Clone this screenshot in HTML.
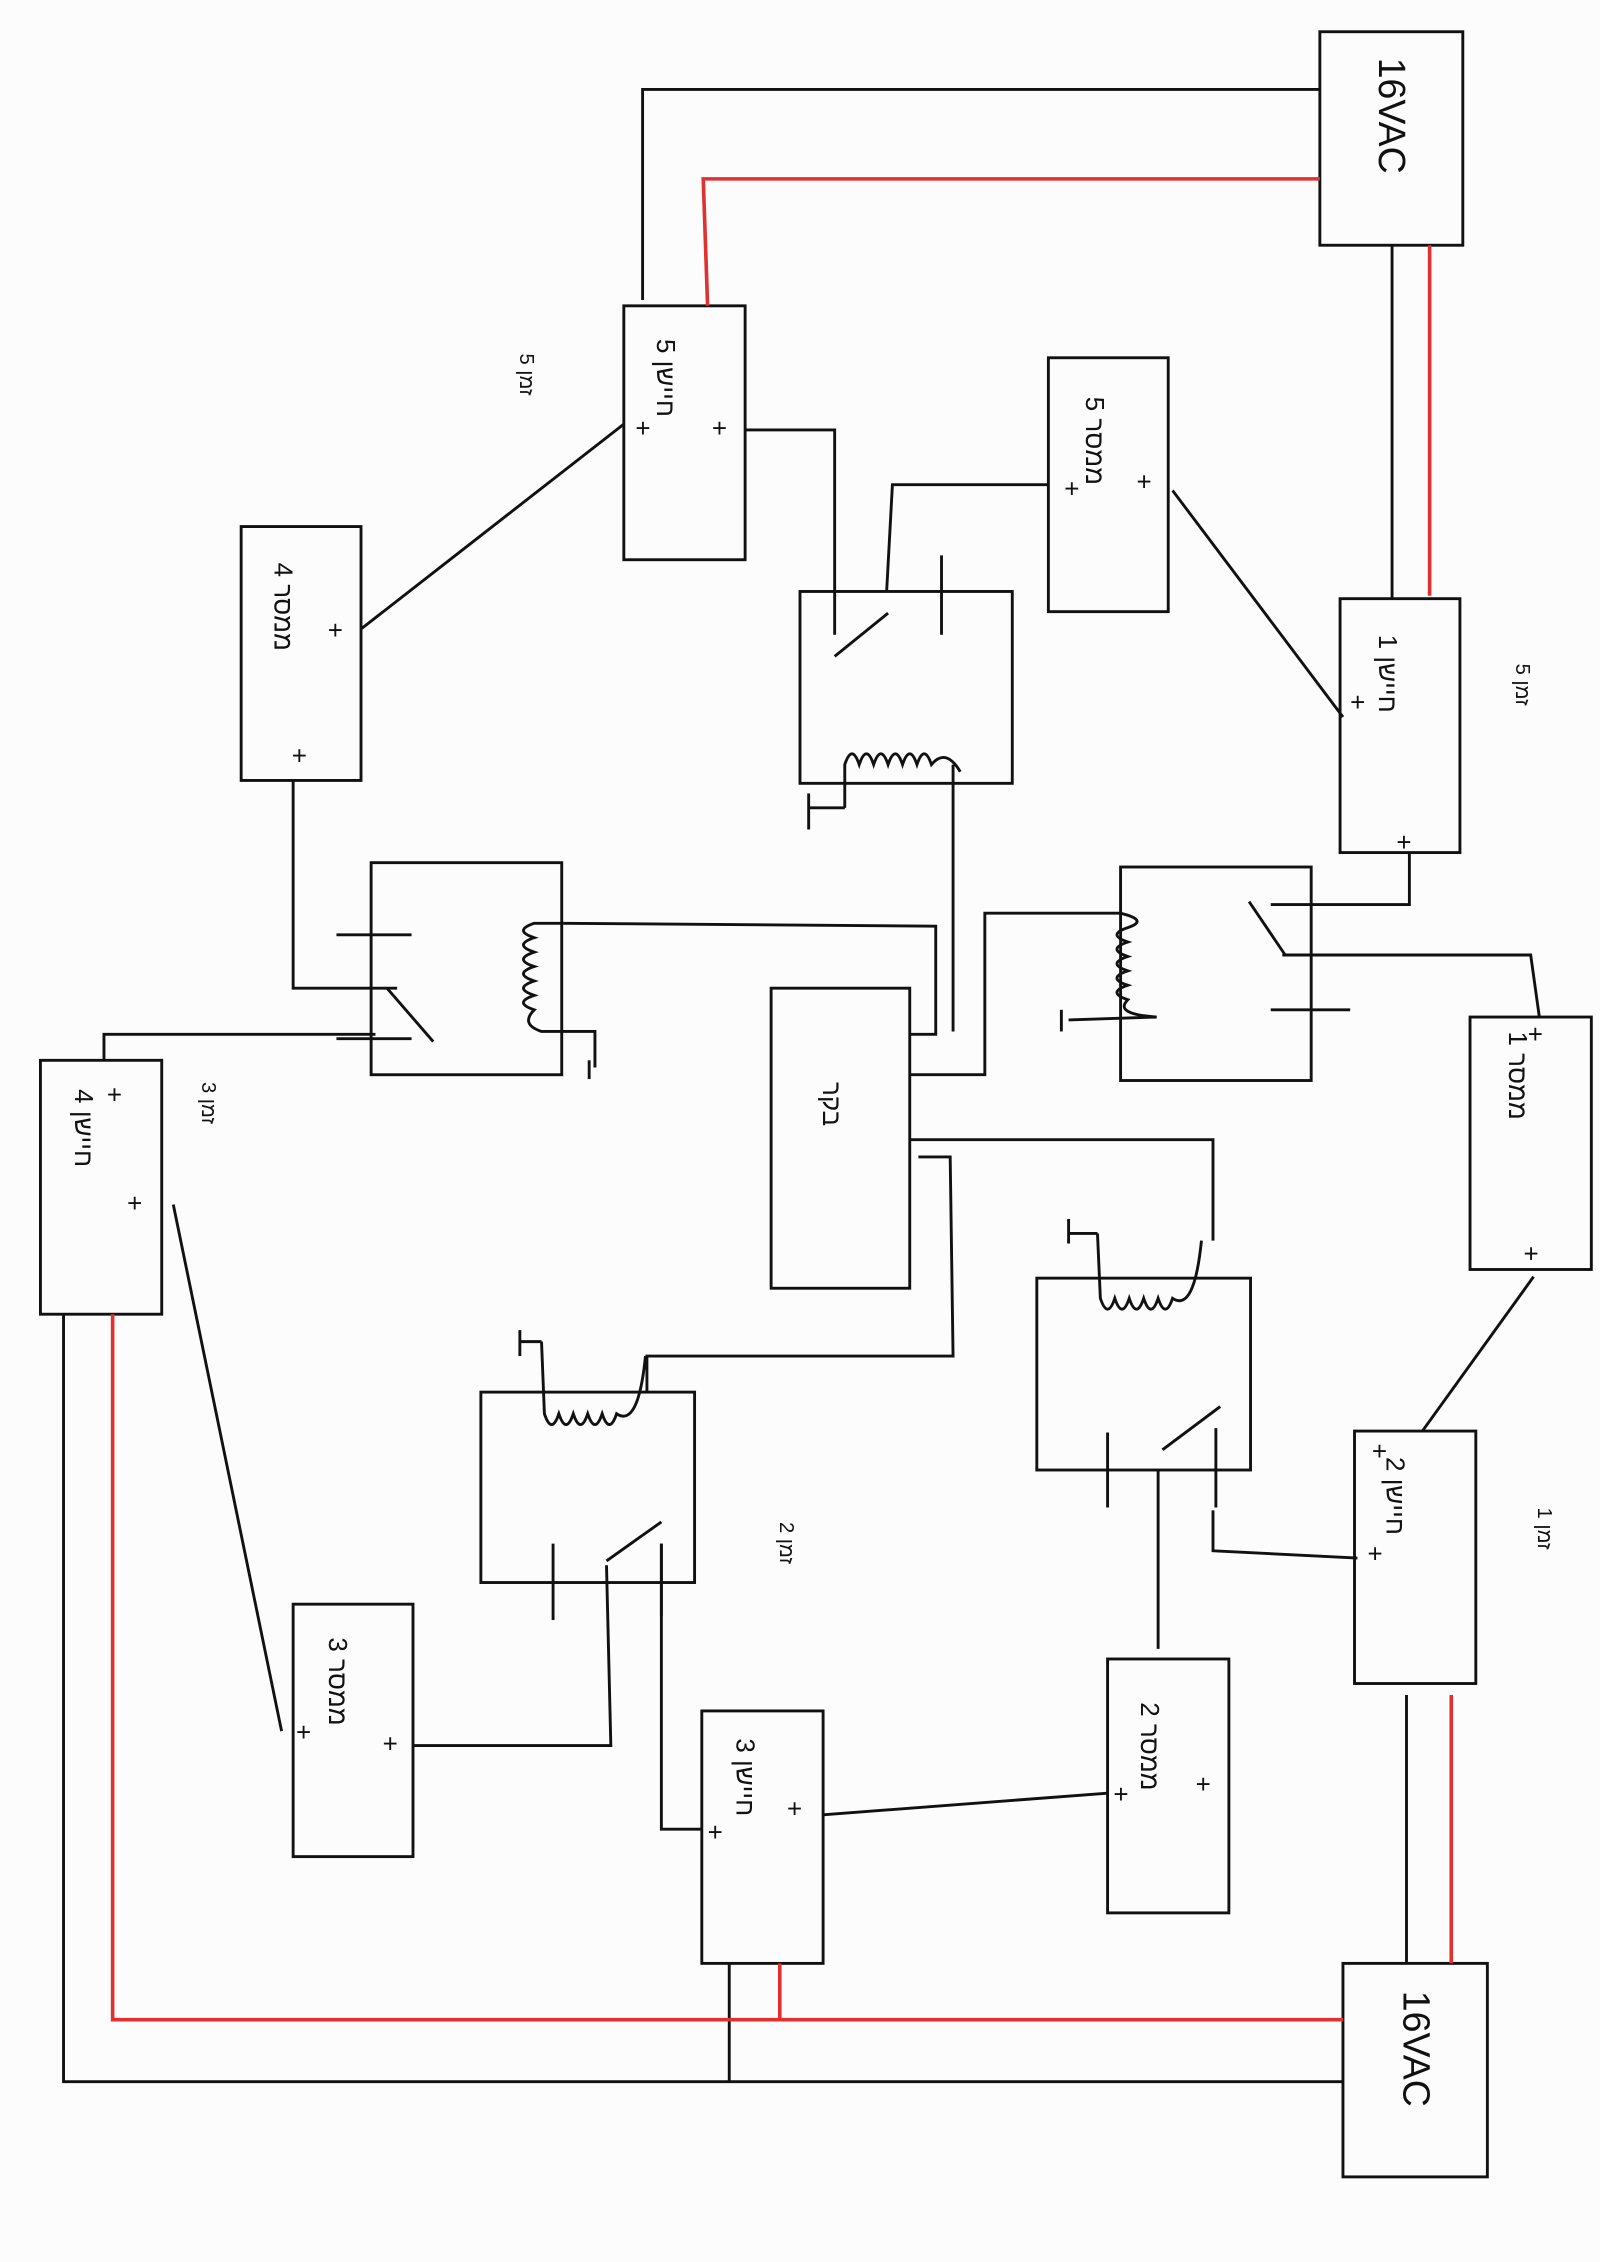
<!DOCTYPE html>
<html><head><meta charset="utf-8"><style>
html,body{margin:0;padding:0;background:#fcfcfc;}
svg{display:block;}
text{font-family:"Liberation Sans","Noto Sans CJK SC",sans-serif;fill:#111;}
</style></head><body>
<svg width="1600" height="2262" viewBox="0 0 1108 1568" preserveAspectRatio="none" xmlns="http://www.w3.org/2000/svg">
<rect width="1108" height="1568" fill="#fcfcfc"/>
<g fill="none" stroke="#111" stroke-width="2">
<!-- boxes -->
<rect x="914" y="22" width="99" height="148"/>
<rect x="432" y="212" width="84" height="176"/>
<rect x="726" y="248" width="83" height="176"/>
<rect x="167" y="365" width="83" height="176"/>
<rect x="554" y="410" width="147" height="133"/>
<rect x="928" y="415" width="83" height="176"/>
<rect x="257" y="598" width="132" height="147"/>
<rect x="776" y="601" width="132" height="148"/>
<rect x="534" y="685" width="96" height="208"/>
<rect x="1018" y="705" width="84" height="175"/>
<rect x="28" y="735" width="84" height="176"/>
<rect x="718" y="886" width="148" height="133"/>
<rect x="333" y="965" width="148" height="132"/>
<rect x="938" y="992" width="84" height="175"/>
<rect x="203" y="1112" width="83" height="175"/>
<rect x="486" y="1186" width="84" height="175"/>
<rect x="767" y="1150" width="84" height="176"/>
<rect x="930" y="1361" width="100" height="148"/>
<!-- black wires -->
<polyline points="914,62 445,62 445,208"/>
<line x1="964" y1="170" x2="964" y2="415"/>
<polyline points="516,298 578,298 578,440"/>
<polyline points="614,410 618,336 726,336"/>
<line x1="812" y1="340" x2="930" y2="497"/>
<line x1="250" y1="436" x2="432" y2="294"/>
<polyline points="203,541 203,685 275,685"/>
<polyline points="72,735 72,717 260,717"/>
<line x1="120" y1="835" x2="195" y2="1200"/>
<polyline points="44,911 44,1443 930,1443"/>
<line x1="505" y1="1361" x2="505" y2="1443"/>
<line x1="974" y1="1175" x2="974" y2="1361"/>
<polyline points="286,1210 423,1210 420,1085"/>
<polyline points="458,1070 458,1268 486,1268"/>
<line x1="570" y1="1258" x2="767" y2="1243"/>
<line x1="802" y1="1019" x2="802" y2="1143"/>
<polyline points="840,1047 840,1075 940,1080"/>
<line x1="1062" y1="885" x2="985" y2="992"/>
<polyline points="976,591 976,627 880,627"/>
<polyline points="888,662 1060,662 1066,705"/>
<polyline points="630,745 682,745 682,633 776,633"/>
<polyline points="630,717 648,717 648,642 390,640"/>
<polyline points="630,790 840,790 840,860"/>
<polyline points="636,802 658,802 660,940 448,940 448,965"/>
<polyline points="660,715 660,530"/>
<!-- switch symbols -->
<line x1="578" y1="455" x2="615" y2="425"/><line x1="652" y1="385" x2="652" y2="440"/>
<line x1="233" y1="648" x2="285" y2="648"/><line x1="268" y1="685" x2="300" y2="722"/><line x1="233" y1="720" x2="285" y2="720"/>
<line x1="865" y1="625" x2="890" y2="662"/><line x1="880" y1="700" x2="935" y2="700"/>
<line x1="805" y1="1005" x2="845" y2="975"/><line x1="767" y1="993" x2="767" y2="1045"/><line x1="842" y1="990" x2="842" y2="1045"/>
<line x1="420" y1="1082" x2="458" y2="1055"/><line x1="383" y1="1070" x2="383" y2="1123"/><line x1="458" y1="1070" x2="458" y2="1120"/>
<!-- coils -->
<path d="M585,560 L585,530 q5,-15 10,0 q5,-15 10,0 q5,-15 10,0 q5,-15 10,0 q5,-15 10,0 q5,-15 10,0 q10,-12 20,5"/>
<path d="M390,640 L370,640 q-15,5 0,10 q-15,5 0,10 q-15,5 0,10 q-15,5 0,10 q-15,5 0,10 q-15,5 0,10 q-10,10 5,15 L412,715 L412,740"/>
<path d="M776,633 q20,5 5,10 q-15,5 0,10 q-15,5 0,10 q-15,5 0,10 q-15,5 0,10 q-15,5 0,10 q-10,10 20,12 L740,707"/>
<path d="M760,855 L762,900 q5,15 10,0 q5,15 10,0 q5,15 10,0 q5,15 10,0 q5,15 10,0 q15,10 20,-40"/>
<path d="M375,930 L377,980 q5,15 10,0 q5,15 10,0 q5,15 10,0 q5,15 10,0 q5,15 10,0 q15,10 20,-40"/>
<!-- grounds -->
<line x1="585" y1="560" x2="560" y2="560"/><line x1="560" y1="550" x2="560" y2="575"/>
<line x1="735" y1="700" x2="735" y2="715"/>
<line x1="740" y1="855" x2="760" y2="855"/><line x1="740" y1="845" x2="740" y2="862"/>
<line x1="360" y1="930" x2="375" y2="930"/><line x1="360" y1="922" x2="360" y2="940"/>
<line x1="408" y1="735" x2="408" y2="748"/>
</g>
<g fill="none" stroke="#e03030" stroke-width="2.5">
<polyline points="914,124 487,124 490,212"/>
<line x1="990" y1="170" x2="990" y2="413"/>
<polyline points="78,911 78,1400 930,1400"/>
<line x1="540" y1="1361" x2="540" y2="1400"/>
<line x1="1005" y1="1175" x2="1005" y2="1361"/>
</g>
<g font-size="26">
<text transform="translate(955,40) rotate(90)">16VAC</text>
<text transform="translate(972,1380) rotate(90)">16VAC</text>
</g>
<g font-size="18">
<text transform="translate(455,235) rotate(90)">5 חיישן</text>
<text transform="translate(752,275) rotate(90)">5 ממסר</text>
<text transform="translate(190,390) rotate(90)">4 ממסר</text>
<text transform="translate(955,440) rotate(90)">1 חיישן</text>
<text transform="translate(570,750) rotate(90)">בקר</text>
<text transform="translate(1045,715) rotate(90)">1 ממסר</text>
<text transform="translate(52,755) rotate(90)">4 חיישן</text>
<text transform="translate(960,1010) rotate(90)">2 חיישן</text>
<text transform="translate(228,1135) rotate(90)">3 ממסר</text>
<text transform="translate(510,1205) rotate(90)">3 חיישן</text>
<text transform="translate(790,1180) rotate(90)">2 ממסר</text>
<text transform="translate(360,245) rotate(90)" font-size="14">5 זמן</text>
<text transform="translate(1050,460) rotate(90)" font-size="14">5 זמן</text>
<text transform="translate(140,750) rotate(90)" font-size="14">3 זמן</text>
<text transform="translate(1065,1045) rotate(90)" font-size="14">1 זמן</text>
<text transform="translate(540,1055) rotate(90)" font-size="14">2 זמן</text>
</g>
<g font-size="18">
<text x="440" y="303">+</text><text x="493" y="303">+</text>
<text x="737" y="345">+</text><text x="787" y="340">+</text>
<text x="227" y="443">+</text><text x="202" y="530">+</text>
<text x="935" y="493">+</text><text x="967" y="590">+</text>
<text x="1058" y="723">+</text><text x="1055" y="875">+</text>
<text x="74" y="765">+</text><text x="88" y="840">+</text>
<text x="947" y="1083">+</text><text x="950" y="1012">+</text>
<text x="205" y="1207">+</text><text x="265" y="1215">+</text>
<text x="490" y="1276">+</text><text x="545" y="1260">+</text>
<text x="771" y="1250">+</text><text x="828" y="1243">+</text>
</g>
</svg>
</body></html>
